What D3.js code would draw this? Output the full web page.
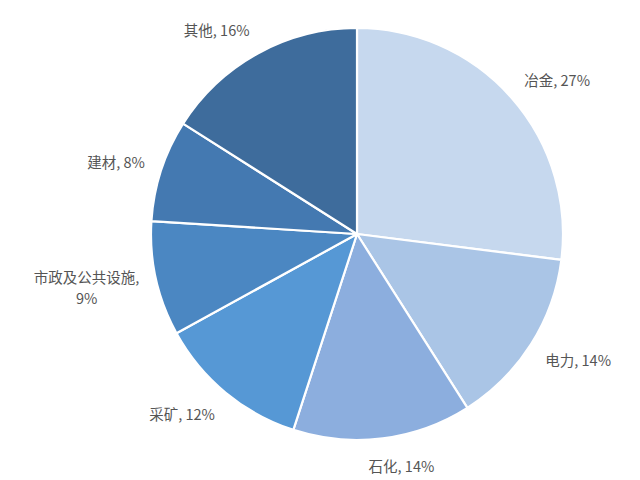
<!DOCTYPE html>
<html>
<head>
<meta charset="utf-8">
<script src="https://cdn.jsdelivr.net/npm/d3@7"></script>
<style>
  html, body { margin: 0; padding: 0; background: #ffffff; }
  svg { display: block; }
  .lbl { font-family: "Noto Sans CJK SC", "Noto Sans", sans-serif; font-size: 14.5px; fill: #555555; }
</style>
</head>
<body>
<svg id="chart" width="640" height="480"></svg>
<script>
// ---- data ----
const categories = ["冶金", "电力", "石化", "采矿", "市政及公共设施", "建材", "其他"];
const shares = [27, 14, 14, 12, 9, 8, 16];
const labelLines = [
  ["冶金, 27%"],
  ["电力, 14%"],
  ["石化, 14%"],
  ["采矿, 12%"],
  ["市政及公共设施,", "9%"],
  ["建材, 8%"],
  ["其他, 16%"]
];
const colors = ["#c6d8ee", "#aac5e6", "#8caede", "#5698d5", "#4b87c2", "#4479b1", "#3e6c9c"];

// ---- layout ----
const W = 640, H = 480;
const cx = 357, cy = 234, R = 206;

const svg = d3.select("#chart");
const g = svg.append("g").attr("transform", `translate(${cx},${cy})`);

const data = categories.map((c, i) => ({ cat: c, v: shares[i], color: colors[i], lines: labelLines[i] }));

const pie = d3.pie().value(d => d.v).sort(null);
const arc = d3.arc().innerRadius(0).outerRadius(R);
const arcs = pie(data);

g.selectAll("path.slice")
  .data(arcs)
  .join("path")
  .attr("class", "slice")
  .attr("d", arc)
  .attr("fill", d => d.data.color)
  .attr("stroke", "#ffffff")
  .attr("stroke-width", 2.2)
  .attr("stroke-linejoin", "round");

// labels: outside end
const lineH = 21;
const labelR = R + 17;
arcs.forEach(a => {
  const mid = (a.startAngle + a.endAngle) / 2;
  const s = Math.sin(mid), c = Math.cos(mid);
  const t = g.append("text").attr("class", "lbl").attr("text-anchor", "middle");
  a.data.lines.forEach((ln, i) => {
    t.append("tspan").attr("x", 0).attr("dy", i === 0 ? 0 : lineH).text(ln);
  });
  const bb = t.node().getBBox();
  const w = bb.width, h = bb.height;
  const px = labelR * s + Math.sign(s) * (w / 2) * Math.min(1, 4 * Math.abs(s));
  const py = -labelR * c - c * h / 2;
  const yTop = py - h / 2;
  const shiftY = yTop - bb.y;
  t.attr("transform", `translate(${px},${shiftY})`);
});
</script>
</body>
</html>
